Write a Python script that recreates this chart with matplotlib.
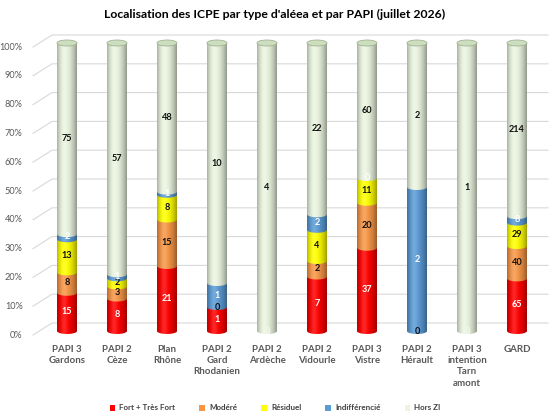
import numpy as np
import matplotlib
matplotlib.use("Agg")
import matplotlib.pyplot as plt
from matplotlib.path import Path
from matplotlib.patches import PathPatch, Ellipse, Rectangle
from matplotlib.lines import Line2D
from matplotlib.transforms import ScaledTranslation, IdentityTransform
from matplotlib.colors import to_rgb

categories = ["PAPI 3\nGardons", "PAPI 2\nCèze", "Plan\nRhône", "PAPI 2\nGard\nRhodanien",
              "PAPI 2\nArdèche", "PAPI 2\nVidourle", "PAPI 3\nVistre", "PAPI 2\nHérault",
              "PAPI 3\nintention\nTarn\namont", "GARD"]
series_names = ["Fort + Très Fort", "Modéré", "Résiduel", "Indifférencié", "Hors ZI"]
fort = [15, 8, 21, 1, 0, 7, 37, 0, 0, 65]
modere = [8, 3, 15, 0, 0, 2, 20, 0, 0, 40]
residuel = [13, 2, 8, 0, 0, 4, 11, 0, 0, 29]
indiff = [2, 1, 1, 1, 0, 2, 0, 2, 0, 8]
hors_zi = [75, 57, 48, 10, 4, 22, 60, 2, 1, 214]
colors = ["#FF0000", "#F79646", "#FFFF00", "#5B9BD5", "#EBF5E0"]
label_colors = ["white", "#111111", "#111111", "white", "#111111"]
# (category index, series index) of zero values whose label is shown
zero_labels = [(3, 1), (6, 3), (7, 1), (4, 0), (8, 0)]
yticks = [0, 0.1, 0.2, 0.3, 0.4, 0.5, 0.6, 0.7, 0.8, 0.9, 1.0]
ytick_labels = ["0%", "10%", "20%", "30%", "40%", "50%", "60%", "70%", "80%", "90%", "100%"]
title = "Localisation des ICPE par type d'aléea et par PAPI (juillet 2026)"

plt.rcParams['font.family'] = ['Lato', 'DejaVu Sans']

W, H = 550, 417
fig = plt.figure(figsize=(W / 100, H / 100), dpi=100)
y0px, y1px = 331, 43          # pixel rows of 0 and 1
unit = y0px - y1px
ylo, yhi = -0.04, 1.04
ax_bottom_px = y0px - ylo * unit
ax_top_px = y1px - (yhi - 1) * unit
ax = fig.add_axes([42 / W, (H - ax_bottom_px) / H, 500 / W, (ax_bottom_px - ax_top_px) / H])
ax.patch.set_visible(False)

data = np.array([fort, modere, residuel, indiff, hors_zi], dtype=float)
totals = data.sum(axis=0)
frac = data / totals
cum = np.vstack([np.zeros(len(categories)), np.cumsum(frac, axis=0)])

bw = 0.4
eh = 6.0 / unit


def gradient(color, n=80):
    c = np.array(to_rgb(color))
    t = np.linspace(0, 1, n)
    d = np.where(t < 0.38, ((0.38 - t) / 0.38) ** 2 * 0.28, ((t - 0.38) / 0.62) ** 2 * 0.38)
    rgb = c[None, :] * (1 - d[:, None])
    h = np.exp(-((t - 0.36) / 0.16) ** 2) * 0.15
    rgb = rgb + (1 - rgb) * h[:, None]
    return rgb[None, :, :]


theta = np.linspace(np.pi, 2 * np.pi, 40)
for i in range(len(categories)):
    xc = i
    for s in range(len(series_names)):
        a, b = cum[s, i], cum[s + 1, i]
        if b - a <= 0:
            continue
        xs = list(xc + bw / 2 * np.cos(theta)) + [xc + bw / 2, xc - bw / 2]
        ys = list(a + eh / 2 * np.sin(theta)) + [b, b]
        verts = list(zip(xs, ys)) + [(xs[0], ys[0])]
        codes = [Path.MOVETO] + [Path.LINETO] * (len(verts) - 2) + [Path.CLOSEPOLY]
        patch = PathPatch(Path(verts, codes), fc='none', ec='none', zorder=2 + s * 0.1)
        ax.add_patch(patch)
        im = ax.imshow(gradient(colors[s]), extent=[xc - bw / 2, xc + bw / 2, a - eh, b],
                       aspect='auto', interpolation='bilinear', zorder=2 + s * 0.1)
        im.set_clip_path(patch)
    # top cap
    ax.add_patch(Ellipse((xc, cum[-1, i]), bw, eh, fc='#CCDEBD', ec='#A3B396', lw=0.6, zorder=3))

# data labels
for i in range(len(categories)):
    for s in range(len(series_names)):
        v = data[s, i]
        a, b = cum[s, i], cum[s + 1, i]
        if v > 0:
            ax.text(i, (a + b) / 2, f"{int(v)}", ha='center', va='center', fontsize=6.6,
                    fontweight='bold', color=label_colors[s], zorder=5)
        elif (i, s) in zero_labels:
            col = label_colors[s] if s != 0 else '#F4F8F0'
            ax.text(i, a, "0", ha='center', va='center', fontsize=6.6,
                    fontweight='bold', color=col, zorder=5)

ax.set_xlim(-0.5, len(categories) - 0.5)
ax.set_ylim(ylo, yhi)
for sp in ax.spines.values():
    sp.set_visible(False)

ax.set_yticks(yticks)
ax.set_yticklabels(ytick_labels, fontsize=6.6, color='#595959')
ax.tick_params(axis='y', length=0, pad=14)
off = ScaledTranslation(0, -3 / 100, fig.dpi_scale_trans)
for lab in ax.get_yticklabels():
    lab.set_transform(lab.get_transform() + off)

ax.set_xticks(range(len(categories)))
ax.set_xticklabels(categories, fontsize=7, fontweight='bold', color='#595959', linespacing=1.3)
ax.tick_params(axis='x', length=0, pad=2)

# 3D-like gridlines
fig.canvas.draw()
for v in yticks:
    yb = ax.transData.transform((0, v))[1]
    fig.add_artist(Line2D([33, 52, 548], [yb - 4, yb + 8, yb + 8], transform=IdentityTransform(),
                          color='#D9D9D9', lw=0.8, zorder=-1))

fig.text(0.5, 1 - 14 / H, title, ha='center', va='center', fontsize=8.8, fontweight='bold', color='black')

handles = [Rectangle((0, 0), 1, 1, fc=c, ec='none') for c in colors]
fig.legend(handles, series_names, loc='center', bbox_to_anchor=(0.5, 1 - 408 / H), ncol=5,
           frameon=False, prop={'size': 5.8, 'weight': 'bold'}, handlelength=0.7, handleheight=0.7,
           handletextpad=0.5, columnspacing=3.0, labelcolor='#404040')

fig.savefig("out.png", dpi=100)
